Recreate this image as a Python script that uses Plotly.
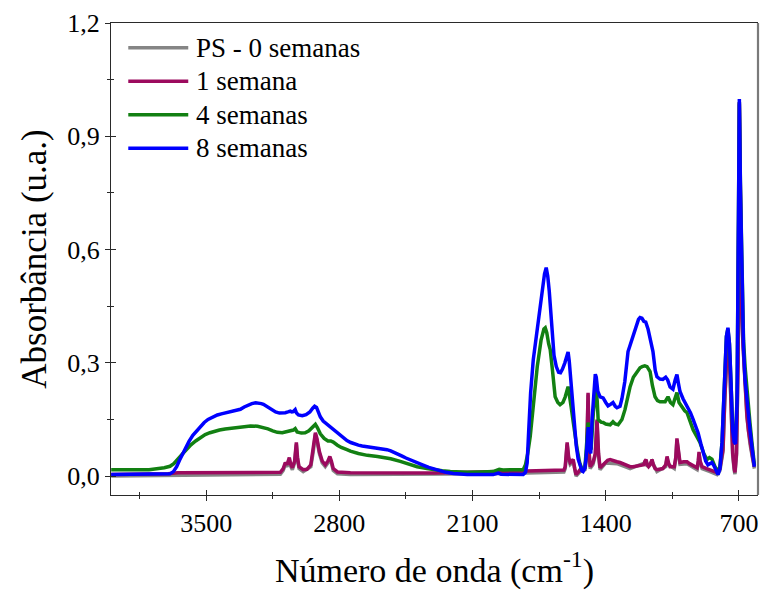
import plotly.graph_objects as go

# ---- data (wavenumber in cm-1, absorbance in u.a.) ----
wn_8s = [3999, 3850, 3720, 3690, 3672, 3655, 3640, 3625, 3610, 3590, 3570, 3550, 3530, 3510, 3490, 3465,
         3441, 3420, 3400, 3380, 3357, 3340, 3320, 3300, 3280, 3260, 3240, 3225, 3210, 3199, 3185, 3170,
         3150, 3135, 3115, 3100, 3084, 3070, 3058, 3050, 3042, 3032, 3025, 3015, 2995, 2975, 2955, 2940,
         2930, 2920, 2910, 2900, 2885, 2870, 2855, 2840, 2820, 2800, 2780, 2760, 2740, 2720, 2700, 2680,
         2653, 2620, 2590, 2570, 2550, 2530, 2510, 2490, 2470, 2450, 2420, 2391, 2360, 2330, 2300, 2270,
         2240, 2200, 2160, 2128, 1992, 1965, 1950, 1880, 1834, 1822, 1813, 1805, 1795, 1781, 1765, 1750,
         1735, 1722, 1713, 1705, 1697, 1688, 1680, 1672, 1660, 1648, 1638, 1628, 1615, 1605, 1598, 1592,
         1585, 1575, 1565, 1555, 1545, 1535, 1525, 1519, 1510, 1503, 1497, 1492, 1485, 1479, 1472, 1462,
         1455, 1450, 1442, 1430, 1414, 1400, 1388, 1375, 1362, 1350, 1341, 1325, 1315, 1300, 1283, 1270,
         1257, 1240, 1228, 1220, 1210, 1200, 1190, 1178, 1165, 1152, 1140, 1131, 1115, 1100, 1085, 1075,
         1062, 1047, 1035, 1026, 1018, 1010, 994, 980, 968, 955, 941, 928, 915, 900, 889, 875,
         863, 852, 842, 832, 820, 810, 800, 789, 780, 773, 766, 758, 750, 742, 733, 725,
         718, 710, 703, 698, 692, 684, 676, 668, 655, 642, 630, 619]
ab_8s = [0.004, 0.004, 0.004, 0.006, 0.012, 0.025, 0.042, 0.058, 0.075, 0.092, 0.108, 0.120, 0.132, 0.142, 0.150, 0.157,
         0.162, 0.165, 0.167, 0.169, 0.171, 0.173, 0.177, 0.183, 0.188, 0.192, 0.194, 0.194, 0.192, 0.190, 0.186, 0.180,
         0.174, 0.170, 0.167, 0.167, 0.168, 0.170, 0.172, 0.170, 0.171, 0.176, 0.167, 0.162, 0.160, 0.163, 0.170, 0.180,
         0.185, 0.182, 0.168, 0.157, 0.146, 0.140, 0.133, 0.125, 0.117, 0.109, 0.101, 0.094, 0.089, 0.085, 0.082, 0.080,
         0.078, 0.076, 0.074, 0.072, 0.070, 0.067, 0.063, 0.058, 0.053, 0.048, 0.041, 0.035, 0.029, 0.023, 0.018, 0.013,
         0.010, 0.007, 0.005, 0.004, 0.004, 0.008, 0.005, 0.004, 0.004, 0.010, 0.035, 0.120, 0.220, 0.308, 0.370, 0.430,
         0.490, 0.535, 0.552, 0.530, 0.490, 0.420, 0.360, 0.320, 0.290, 0.275, 0.274, 0.283, 0.300, 0.320, 0.329, 0.305,
         0.260, 0.190, 0.130, 0.080, 0.045, 0.025, 0.014, 0.012, 0.020, 0.050, 0.120, 0.130, 0.070, 0.060, 0.150, 0.240,
         0.270, 0.262, 0.225, 0.210, 0.207, 0.195, 0.186, 0.190, 0.195, 0.185, 0.181, 0.185, 0.205, 0.250, 0.330, 0.350,
         0.370, 0.400, 0.415, 0.420, 0.418, 0.410, 0.408, 0.390, 0.360, 0.330, 0.280, 0.263, 0.257, 0.256, 0.262, 0.255,
         0.236, 0.230, 0.255, 0.269, 0.245, 0.224, 0.205, 0.192, 0.184, 0.168, 0.150, 0.133, 0.115, 0.085, 0.062, 0.040,
         0.030, 0.032, 0.036, 0.028, 0.012, 0.004, 0.020, 0.090, 0.200, 0.300, 0.370, 0.393, 0.350, 0.250, 0.120, 0.090,
         0.085, 0.200, 0.700, 0.999, 0.750, 0.475, 0.340, 0.255, 0.180, 0.122, 0.070, 0.025]

wn_4s = [3999, 3900, 3800, 3720, 3690, 3670, 3650, 3635, 3619, 3600, 3580, 3555, 3530, 3505, 3480, 3455,
         3430, 3400, 3357, 3300, 3267, 3230, 3199, 3175, 3150, 3126, 3100, 3084, 3060, 3042, 3032, 3022,
         3000, 2980, 2960, 2940, 2926, 2915, 2900, 2880, 2860, 2845, 2832, 2810, 2790, 2760, 2742, 2700,
         2653, 2600, 2570, 2530, 2480, 2440, 2391, 2340, 2307, 2260, 2217, 2128, 2050, 1992, 1960, 1940,
         1900, 1850, 1834, 1822, 1810, 1797, 1780, 1760, 1740, 1725, 1718, 1710, 1700, 1692, 1680, 1666,
         1652, 1640, 1625, 1613, 1598, 1590, 1582, 1570, 1560, 1550, 1537, 1524, 1515, 1509, 1500, 1493,
         1485, 1477, 1465, 1451, 1445, 1440, 1425, 1414, 1400, 1377, 1362, 1350, 1335, 1315, 1299, 1285,
         1272, 1255, 1236, 1220, 1209, 1195, 1183, 1167, 1155, 1141, 1128, 1115, 1100, 1088, 1073, 1060,
         1047, 1035, 1026, 1015, 999, 985, 973, 957, 941, 922, 905, 885, 868, 855, 842, 826,
         810, 800, 789, 780, 773, 766, 758, 750, 742, 733, 725, 718, 710, 703, 698, 692,
         684, 676, 668, 655, 642, 632, 619]
ab_4s = [0.017, 0.018, 0.017, 0.022, 0.026, 0.033, 0.043, 0.053, 0.062, 0.073, 0.083, 0.093, 0.102, 0.110, 0.115, 0.119,
         0.122, 0.125, 0.128, 0.131, 0.133, 0.132, 0.129, 0.125, 0.120, 0.116, 0.115, 0.117, 0.121, 0.122, 0.126, 0.117,
         0.114, 0.115, 0.120, 0.130, 0.137, 0.128, 0.112, 0.100, 0.093, 0.093, 0.090, 0.082, 0.076, 0.070, 0.066, 0.060,
         0.055, 0.052, 0.050, 0.046, 0.039, 0.032, 0.025, 0.020, 0.017, 0.014, 0.012, 0.010, 0.011, 0.012, 0.018, 0.016,
         0.017, 0.017, 0.017, 0.030, 0.060, 0.105, 0.200, 0.290, 0.360, 0.390, 0.393, 0.380, 0.350, 0.335, 0.280, 0.210,
         0.195, 0.189, 0.195, 0.210, 0.237, 0.215, 0.184, 0.140, 0.100, 0.070, 0.035, 0.017, 0.018, 0.025, 0.090, 0.142,
         0.090, 0.070, 0.170, 0.229, 0.200, 0.150, 0.143, 0.142, 0.138, 0.136, 0.144, 0.138, 0.136, 0.150, 0.176, 0.210,
         0.237, 0.262, 0.277, 0.287, 0.290, 0.292, 0.290, 0.277, 0.240, 0.210, 0.200, 0.197, 0.197, 0.197, 0.210, 0.195,
         0.189, 0.205, 0.221, 0.195, 0.181, 0.173, 0.168, 0.145, 0.123, 0.105, 0.089, 0.060, 0.044, 0.049, 0.045, 0.025,
         0.012, 0.025, 0.090, 0.200, 0.300, 0.370, 0.390, 0.350, 0.250, 0.130, 0.100, 0.095, 0.210, 0.700, 0.990, 0.760,
         0.490, 0.360, 0.290, 0.200, 0.140, 0.090, 0.030]

wn_1s = [3999, 3800, 3700, 3650, 3200, 3110, 3095, 3084, 3075, 3063, 3055, 3047, 3035, 3026, 3020, 3012,
         2990, 2970, 2950, 2937, 2926, 2918, 2905, 2890, 2874, 2860, 2850, 2842, 2832, 2810, 2742, 2300,
         2000, 1834, 1700, 1620, 1613, 1603, 1595, 1587, 1578, 1571, 1563, 1556, 1545, 1535, 1520, 1509,
         1500, 1493, 1487, 1482, 1467, 1455, 1446, 1438, 1430, 1415, 1400, 1390, 1377, 1360, 1341, 1325,
         1300, 1272, 1257, 1230, 1200, 1194, 1188, 1182, 1175, 1167, 1157, 1150, 1141, 1131, 1100, 1085,
         1078, 1070, 1062, 1040, 1032, 1026, 1018, 1010, 990, 973, 960, 947, 930, 920, 914, 910,
         904, 894, 870, 852, 830, 815, 800, 784, 775, 766, 758, 750, 742, 733, 725, 721,
         713, 705, 698, 692, 685, 679, 668, 658, 650, 642, 630, 619]
ab_1s = [0.004, 0.004, 0.006, 0.009, 0.009, 0.010, 0.020, 0.036, 0.030, 0.049, 0.030, 0.022, 0.040, 0.089, 0.050, 0.025,
         0.017, 0.018, 0.030, 0.070, 0.115, 0.100, 0.065, 0.040, 0.030, 0.040, 0.052, 0.040, 0.020, 0.011, 0.009, 0.008,
         0.011, 0.012, 0.014, 0.016, 0.025, 0.089, 0.050, 0.036, 0.040, 0.044, 0.020, 0.004, 0.010, 0.017, 0.018, 0.022,
         0.060, 0.221, 0.060, 0.025, 0.036, 0.060, 0.150, 0.060, 0.022, 0.030, 0.040, 0.042, 0.044, 0.040, 0.038, 0.036,
         0.030, 0.025, 0.025, 0.027, 0.030, 0.040, 0.044, 0.030, 0.025, 0.030, 0.044, 0.030, 0.020, 0.017, 0.020, 0.030,
         0.052, 0.035, 0.025, 0.025, 0.050, 0.100, 0.060, 0.036, 0.038, 0.038, 0.033, 0.030, 0.025, 0.022, 0.040, 0.064,
         0.040, 0.025, 0.020, 0.017, 0.012, 0.009, 0.020, 0.070, 0.200, 0.330, 0.385, 0.320, 0.160, 0.060, 0.020, 0.010,
         0.060, 0.300, 0.990, 0.600, 0.420, 0.353, 0.240, 0.160, 0.120, 0.090, 0.055, 0.025]

wn_0s = [3999, 3700, 3200, 3110, 3095, 3084, 3075, 3063, 3055, 3047, 3035, 3026, 3020, 3012, 2990, 2950,
         2937, 2926, 2918, 2905, 2890, 2874, 2860, 2850, 2842, 2832, 2810, 2742, 2000, 1620, 1613, 1603,
         1595, 1587, 1571, 1556, 1535, 1509, 1500, 1493, 1487, 1482, 1467, 1455, 1446, 1438, 1430, 1400,
         1341, 1272, 1194, 1188, 1182, 1157, 1131, 1085, 1078, 1070, 1040, 1032, 1026, 1018, 1010, 973,
         947, 920, 914, 910, 904, 894, 852, 815, 800, 784, 775, 766, 758, 750, 742, 733,
         725, 721, 713, 705, 698, 692, 685, 679, 668, 658, 642, 619]
ab_0s = [0.000, 0.001, 0.004, 0.005, 0.015, 0.031, 0.025, 0.044, 0.025, 0.017, 0.035, 0.084, 0.045, 0.020, 0.012, 0.025,
         0.065, 0.110, 0.095, 0.060, 0.035, 0.025, 0.035, 0.047, 0.035, 0.015, 0.006, 0.004, 0.006, 0.011, 0.020, 0.084,
         0.045, 0.031, 0.039, 0.000, 0.012, 0.017, 0.055, 0.216, 0.055, 0.020, 0.031, 0.055, 0.145, 0.055, 0.017, 0.035,
         0.033, 0.020, 0.035, 0.039, 0.025, 0.039, 0.012, 0.025, 0.047, 0.030, 0.020, 0.045, 0.095, 0.055, 0.031, 0.033,
         0.025, 0.017, 0.035, 0.059, 0.035, 0.020, 0.012, 0.004, 0.015, 0.065, 0.195, 0.325, 0.380, 0.315, 0.155, 0.055,
         0.015, 0.005, 0.055, 0.295, 0.985, 0.595, 0.415, 0.348, 0.235, 0.155, 0.085, 0.020]

series_names = ["PS - 0 semanas", "1 semana", "4 semanas", "8 semanas"]
series_colors = ["#858585", "#9c0a5e", "#128012", "#0000ff"]

x_ticks = [3500, 2800, 2100, 1400, 700]
y_ticks = [0.0, 0.3, 0.6, 0.9, 1.2]
y_tick_text = ["0,0", "0,3", "0,6", "0,9", "1,2"]

FONT = "Liberation Serif"

fig = go.Figure()
for name, color, xs, ys in zip(series_names, series_colors,
                               [wn_0s, wn_1s, wn_4s, wn_8s], [ab_0s, ab_1s, ab_4s, ab_8s]):
    fig.add_trace(go.Scatter(x=xs, y=ys, mode="lines", name=name, showlegend=False,
                             line=dict(color=color, width=3.5)))

# empty trace to host the overlay axes that draw the inner half of the crossing ticks
fig.add_trace(go.Scatter(x=[], y=[], xaxis="x2", yaxis="y2", showlegend=False, hoverinfo="skip"))

# legend drawn as layout decoration (paper coordinates)
leg_x0, leg_x1, leg_tx = 0.0267, 0.1194, 0.1290
leg_y = [0.9477, 0.8767, 0.8057, 0.7347]
shapes = []
annotations = []
for name, color, yy in zip(series_names, series_colors, leg_y):
    shapes.append(dict(type="line", xref="paper", yref="paper", x0=leg_x0, x1=leg_x1, y0=yy, y1=yy,
                       line=dict(color=color, width=3.6)))
    annotations.append(dict(text=name, xref="paper", yref="paper", x=leg_tx, y=yy,
                            xanchor="left", yanchor="middle", showarrow=False,
                            font=dict(family=FONT, size=27, color="black")))
shapes.append(dict(type="line", xref="paper", yref="paper", x0=1, x1=1, y0=0, y1=1,
                   line=dict(color="#7a7a7a", width=2.2)))

XR = [4000, 600]
YR = [-0.05, 1.2]
axis_color = "#2a2a2a"

fig.update_layout(
    width=761, height=592,
    margin=dict(l=111, r=3, t=23, b=97),
    paper_bgcolor="white", plot_bgcolor="white",
    font=dict(family=FONT, color="black", size=26),
    showlegend=False,
    xaxis=dict(range=XR, tickvals=x_ticks, ticktext=[str(v) for v in x_ticks],
               ticks="outside", ticklen=5, tickwidth=1.3, tickcolor=axis_color,
               showline=True, linecolor=axis_color, linewidth=1.3, mirror=True,
               showgrid=False, zeroline=False,
               minor=dict(tick0=0, dtick=350, ticks="outside", ticklen=3, tickwidth=1.2, tickcolor=axis_color),
               tickfont=dict(family=FONT, size=26),
               title=dict(text="Número de onda (cm<sup>-1</sup>)", font=dict(family=FONT, size=34), standoff=20)),
    yaxis=dict(range=YR, tickvals=y_ticks, ticktext=y_tick_text,
               ticks="outside", ticklen=5, tickwidth=1.3, tickcolor=axis_color,
               showline=True, linecolor=axis_color, linewidth=1.3, mirror=False,
               showgrid=False, zeroline=False,
               minor=dict(tick0=0, dtick=0.15, ticks="outside", ticklen=3, tickwidth=1.2, tickcolor=axis_color),
               tickfont=dict(family=FONT, size=26),
               title=dict(text="Absorbância (u.a.)", font=dict(family=FONT, size=35), standoff=9)),
    xaxis2=dict(range=XR, overlaying="x", anchor="y2", side="bottom", tickvals=x_ticks,
                ticks="inside", ticklen=5, tickwidth=1.3, tickcolor=axis_color,
                showticklabels=False, showline=False, showgrid=False, zeroline=False,
                minor=dict(tick0=0, dtick=350, ticks="inside", ticklen=3, tickwidth=1.2, tickcolor=axis_color)),
    yaxis2=dict(range=YR, overlaying="y", anchor="x2", side="left", tickvals=y_ticks,
                ticks="inside", ticklen=5, tickwidth=1.3, tickcolor=axis_color,
                showticklabels=False, showline=False, showgrid=False, zeroline=False,
                minor=dict(tick0=0, dtick=0.15, ticks="inside", ticklen=3, tickwidth=1.2, tickcolor=axis_color)),
    shapes=shapes,
    annotations=annotations,
)

fig.write_html("out.html")
